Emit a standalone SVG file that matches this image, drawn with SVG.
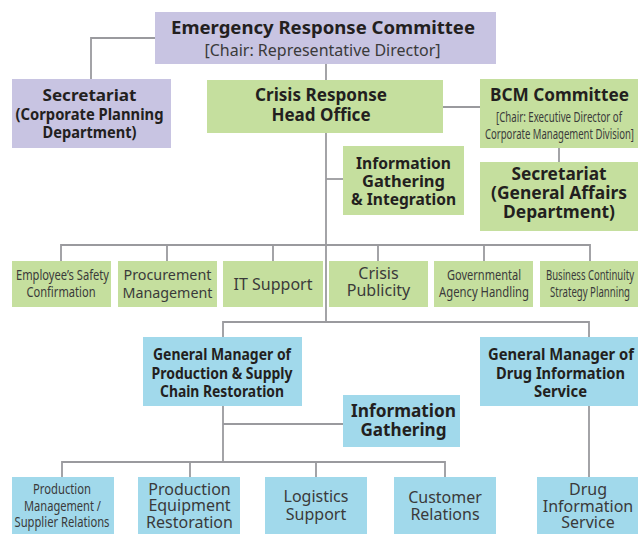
<svg xmlns="http://www.w3.org/2000/svg" width="638" height="534" viewBox="0 0 638 534">
  <style>
    .purple { fill: #c8c4e2; }
    .green { fill: #c5df9e; }
    .blue { fill: #a1d9eb; }
    .link { fill: none; stroke: #9a9a9e; stroke-width: 1.8; }
    text { font-family: "Noto Sans", "Open Sans", sans-serif; text-anchor: middle; fill: #2b2b2b; }
    .b { font-weight: bold; fill: #231f20; }
    .r { fill: #3a3a3a; }
    .n { font-size: 15px; }
  </style>

  <!-- connectors -->
  <g id="connectors">
    <polyline class="link" points="155,38 91,38 91,79"/>
    <line class="link" x1="326" y1="64" x2="326" y2="322"/>
    <line class="link" x1="443" y1="107" x2="480" y2="107"/>
    <line class="link" x1="559" y1="148" x2="559" y2="162"/>
    <line class="link" x1="326" y1="179" x2="343" y2="179"/>
    <polyline class="link" points="61,261 61,245 590,245 590,261"/>
    <line class="link" x1="167" y1="245" x2="167" y2="261"/>
    <line class="link" x1="273" y1="245" x2="273" y2="261"/>
    <line class="link" x1="378" y1="245" x2="378" y2="261"/>
    <line class="link" x1="484" y1="245" x2="484" y2="261"/>
    <polyline class="link" points="223,337 223,322 589,322 589,337"/>
    <line class="link" x1="223" y1="405" x2="223" y2="462"/>
    <line class="link" x1="223" y1="424" x2="343" y2="424"/>
    <polyline class="link" points="62,477 62,462 445,462 445,477"/>
    <line class="link" x1="190" y1="462" x2="190" y2="477"/>
    <line class="link" x1="316" y1="462" x2="316" y2="477"/>
    <line class="link" x1="589" y1="405" x2="589" y2="477"/>
  </g>

  <g id="emergency-committee">
    <rect class="purple" x="155" y="12" width="341" height="52"/>
    <text class="b" x="323" y="34" font-size="18.5" textLength="304" lengthAdjust="spacingAndGlyphs">Emergency Response Committee</text>
    <text class="r" x="322.5" y="56" font-size="16" textLength="236" lengthAdjust="spacingAndGlyphs">[Chair: Representative Director]</text>
  </g>

  <g id="secretariat-planning">
    <rect class="purple" x="12" y="79" width="159" height="69"/>
    <text class="b" x="89.5" y="101" font-size="16.5" textLength="94" lengthAdjust="spacingAndGlyphs">Secretariat</text>
    <text class="b" x="89.5" y="119.5" font-size="16.5" textLength="148" lengthAdjust="spacingAndGlyphs">(Corporate Planning</text>
    <text class="b" x="89.5" y="138" font-size="16.5" textLength="94" lengthAdjust="spacingAndGlyphs">Department)</text>
  </g>

  <g id="crisis-head-office">
    <rect class="green" x="207" y="80" width="236" height="53"/>
    <text class="b" x="321" y="101" font-size="17" textLength="132" lengthAdjust="spacingAndGlyphs">Crisis Response</text>
    <text class="b" x="321" y="121" font-size="17">Head Office</text>
  </g>

  <g id="bcm-committee">
    <rect class="green" x="480" y="79" width="158" height="69"/>
    <text class="b" x="559.5" y="101" font-size="17" textLength="139" lengthAdjust="spacingAndGlyphs">BCM Committee</text>
    <text class="r" x="559" y="121.5" font-size="14" textLength="126" lengthAdjust="spacingAndGlyphs">[Chair: Executive Director of</text>
    <text class="r" x="559.5" y="138.5" font-size="14" textLength="149" lengthAdjust="spacingAndGlyphs">Corporate Management Division]</text>
  </g>

  <g id="info-integration">
    <rect class="green" x="343" y="146" width="121" height="69"/>
    <text class="b" x="403.5" y="168.5" font-size="16.5" textLength="95" lengthAdjust="spacingAndGlyphs">Information</text>
    <text class="b" x="403.5" y="187" font-size="16.5">Gathering</text>
    <text class="b" x="403.5" y="205" font-size="16.5" textLength="105" lengthAdjust="spacingAndGlyphs">&amp; Integration</text>
  </g>

  <g id="secretariat-general-affairs">
    <rect class="green" x="480" y="162" width="158" height="69"/>
    <text class="b" x="559" y="180" font-size="17.5" textLength="95" lengthAdjust="spacingAndGlyphs">Secretariat</text>
    <text class="b" x="559" y="198.5" font-size="17.5" textLength="136" lengthAdjust="spacingAndGlyphs">(General Affairs</text>
    <text class="b" x="559" y="217.5" font-size="17.5" textLength="112" lengthAdjust="spacingAndGlyphs">Department)</text>
  </g>

  <g id="employee-safety">
    <rect class="green" x="12" y="261" width="99" height="46"/>
    <text class="r n" x="62.5" y="280" textLength="93" lengthAdjust="spacingAndGlyphs">Employee’s Safety</text>
    <text class="r n" x="61" y="297" textLength="69" lengthAdjust="spacingAndGlyphs">Confirmation</text>
  </g>

  <g id="procurement">
    <rect class="green" x="118" y="261" width="99" height="46"/>
    <text class="r" x="167.5" y="280" font-size="15" textLength="88" lengthAdjust="spacingAndGlyphs">Procurement</text>
    <text class="r" x="167.5" y="297.5" font-size="15" textLength="90" lengthAdjust="spacingAndGlyphs">Management</text>
  </g>

  <g id="it-support">
    <rect class="green" x="223" y="261" width="100" height="46"/>
    <text class="r" x="273" y="290" font-size="16">IT Support</text>
  </g>

  <g id="crisis-publicity">
    <rect class="green" x="329" y="261" width="99" height="46"/>
    <text class="r" x="378.5" y="278.5" font-size="16">Crisis</text>
    <text class="r" x="378.5" y="296" font-size="16">Publicity</text>
  </g>

  <g id="governmental-agency">
    <rect class="green" x="434" y="261" width="99" height="46"/>
    <text class="r n" x="484" y="280" textLength="74" lengthAdjust="spacingAndGlyphs">Governmental</text>
    <text class="r n" x="484" y="297" textLength="90" lengthAdjust="spacingAndGlyphs">Agency Handling</text>
  </g>

  <g id="bc-strategy">
    <rect class="green" x="540" y="261" width="98" height="46"/>
    <text class="r n" x="590" y="280" textLength="88" lengthAdjust="spacingAndGlyphs">Business Continuity</text>
    <text class="r n" x="590" y="297" textLength="80" lengthAdjust="spacingAndGlyphs">Strategy Planning</text>
  </g>

  <g id="gm-production">
    <rect class="blue" x="143" y="337" width="159" height="69"/>
    <text class="b" x="222" y="360" font-size="16.5" textLength="138" lengthAdjust="spacingAndGlyphs">General Manager of</text>
    <text class="b" x="222" y="378.5" font-size="16.5" textLength="141" lengthAdjust="spacingAndGlyphs">Production &amp; Supply</text>
    <text class="b" x="222" y="397" font-size="16.5" textLength="124" lengthAdjust="spacingAndGlyphs">Chain Restoration</text>
  </g>

  <g id="gm-drug-info">
    <rect class="blue" x="480" y="337" width="158" height="69"/>
    <text class="b" x="561" y="360" font-size="16.5" textLength="146" lengthAdjust="spacingAndGlyphs">General Manager of</text>
    <text class="b" x="560.5" y="378.5" font-size="16.5" textLength="129" lengthAdjust="spacingAndGlyphs">Drug Information</text>
    <text class="b" x="560.5" y="397" font-size="16.5" textLength="53" lengthAdjust="spacingAndGlyphs">Service</text>
  </g>

  <g id="info-gathering">
    <rect class="blue" x="343" y="395" width="117" height="52"/>
    <text class="b" x="403.5" y="417" font-size="17.5" textLength="105" lengthAdjust="spacingAndGlyphs">Information</text>
    <text class="b" x="403.5" y="436" font-size="17.5" textLength="86" lengthAdjust="spacingAndGlyphs">Gathering</text>
  </g>

  <g id="production-management">
    <rect class="blue" x="12" y="477" width="102" height="57"/>
    <text class="r n" x="62" y="494" textLength="58" lengthAdjust="spacingAndGlyphs">Production</text>
    <text class="r n" x="62.5" y="510.5" textLength="77" lengthAdjust="spacingAndGlyphs">Management /</text>
    <text class="r n" x="62" y="527" textLength="95" lengthAdjust="spacingAndGlyphs">Supplier Relations</text>
  </g>

  <g id="equipment-restoration">
    <rect class="blue" x="138" y="477" width="102" height="57"/>
    <text class="r" x="189.5" y="494.5" font-size="16">Production</text>
    <text class="r" x="189.5" y="511" font-size="16">Equipment</text>
    <text class="r" x="189.5" y="527.5" font-size="16">Restoration</text>
  </g>

  <g id="logistics-support">
    <rect class="blue" x="265" y="477" width="102" height="57"/>
    <text class="r" x="316" y="502" font-size="16">Logistics</text>
    <text class="r" x="316" y="519.5" font-size="16">Support</text>
  </g>

  <g id="customer-relations">
    <rect class="blue" x="394" y="477" width="102" height="57"/>
    <text class="r" x="445" y="502.5" font-size="16">Customer</text>
    <text class="r" x="445" y="519.5" font-size="16">Relations</text>
  </g>

  <g id="drug-info-service">
    <rect class="blue" x="537" y="477" width="101" height="57"/>
    <text class="r" x="588" y="495" font-size="16">Drug</text>
    <text class="r" x="588" y="511.5" font-size="16">Information</text>
    <text class="r" x="588" y="527.5" font-size="16">Service</text>
  </g>
</svg>
